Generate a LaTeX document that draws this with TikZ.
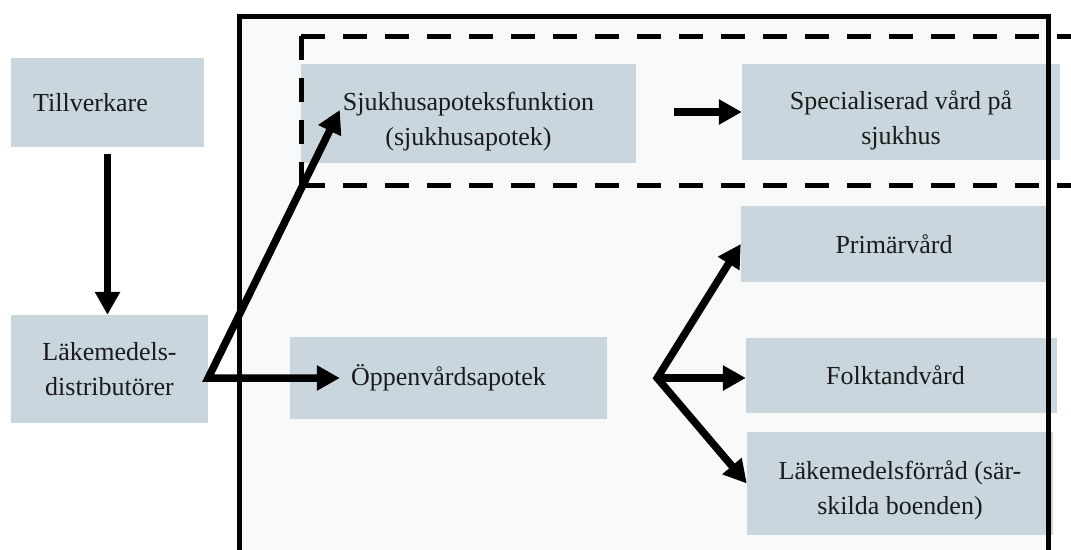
\documentclass[tikz,border=0pt]{standalone}
\usepackage{fontspec}
\setmainfont{Liberation Serif}
\usetikzlibrary{arrows.meta,calc}
\definecolor{boxfill}{HTML}{C9D6DD}
\definecolor{outerfill}{HTML}{F8FAFA}
\definecolor{textcol}{HTML}{1A1A1A}
\tikzset{
  box/.style={fill=boxfill, inner sep=0pt, align=center, text=textcol,
    font=\fontsize{26}{35}\selectfont},
  txt/.style={inner sep=0pt, align=center, text=textcol,
    font=\fontsize{26}{35}\selectfont},
  frame/.style={line width=5pt, line cap=butt},
  dashframe/.style={line width=5pt, dash pattern=on 24pt off 18pt},
  arr/.style={line width=7.5pt, line join=miter},
  >={Triangle[length=23pt,width=24pt]}
}
\begin{document}
\begin{tikzpicture}[x=1pt,y=-1pt]
\useasboundingbox (0,0) rectangle (1071,549);
\clip (0,0) rectangle (1071,549);
\fill[white] (0,0) rectangle (1071,549);
\fill[outerfill] (239,16) rectangle (1048,570);

\node[box, minimum width=193pt, minimum height=89pt] (till) at (107.5,102.5) {\hspace*{-34pt}Tillverkare};
\node[box, minimum width=197pt, minimum height=108pt] (lak) at (109.5,369) {Läkemedels-\\distributörer};
\node[box, minimum width=335pt, minimum height=99pt] (sjuk) at (468.5,113.5) {};
\node[txt] (sjukt) at ([yshift=-8pt]sjuk.center) {Sjukhusapoteksfunktion\\(sjukhusapotek)};
\node[box, minimum width=318pt, minimum height=96pt] (spec) at (901,112) {};
\node[txt] (spect) at ([yshift=-8pt]spec.center) {Specialiserad vård på\\sjukhus};
\node[box, minimum width=306pt, minimum height=76pt] (prim) at (894,244) {Primärvård};
\node[box, minimum width=317pt, minimum height=82pt] (oppen) at (448.5,378) {Öppenvårdsapotek};
\node[box, minimum width=311pt, minimum height=75pt] (folk) at (901.5,375.5) {\hspace*{-12pt}Folktandvård};
\node[box, minimum width=306pt, minimum height=103pt] (lform) at (900,483.5) {};
\node[txt] (lformt) at ([yshift=-7pt]lform.center) {Läkemedelsförråd (sär-\\skilda boenden)};

\draw[frame] (239,570) -- (239,16) -- (1048,16) -- (1048,570);
\draw[dashframe] (301,36) -- (1090,36);
\draw[dashframe] (301,185) -- (1090,185);
\draw[dashframe] (301,36) -- (301,185);

\coordinate (lo) at (lak.east |- oppen.west);
\coordinate (br) at ([xshift=50pt]oppen.east);
\coordinate (sjtip) at ($(sjuk.west)+(39,-3.5)$);
\coordinate (optip) at ([xshift=50pt]oppen.west);
\coordinate (s1) at ([xshift=38pt]sjuk.east);

\draw[arr,->] ([yshift=-7pt]till.south) -- (till.south |- lak.north);
\draw[arr,<->] (sjtip) -- (lo) -- (optip);
\draw[arr,->] (s1 |- spec.west) -- (spec.west);
\draw[arr,<->] (prim.west) -- (br) -- (lform.west);
\draw[arr,->] (br) -- (br -| folk.west);
\end{tikzpicture}
\end{document}
